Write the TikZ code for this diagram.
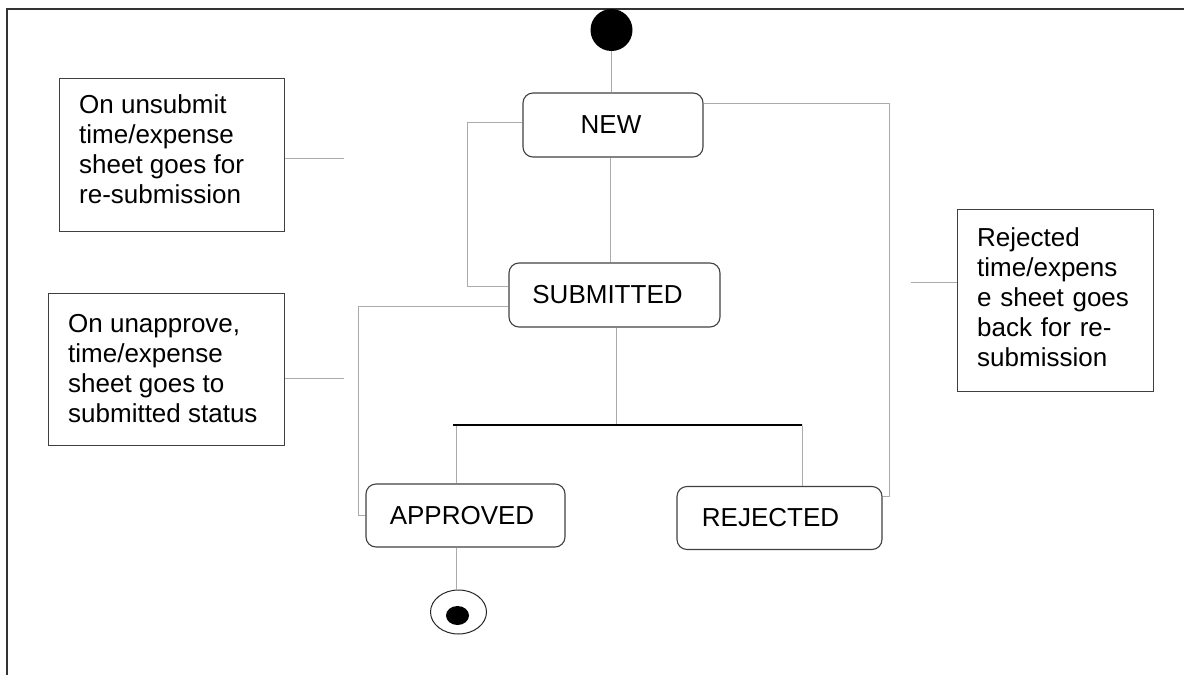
\documentclass[tikz,border=0pt]{standalone}
\usepackage{fontspec}
\setmainfont{Liberation Sans}
\usetikzlibrary{shapes.geometric}
\begin{document}
\begin{tikzpicture}[x=1pt,y=-1pt,
  conn/.style={draw=black!33, line width=0.9pt},
  state/.style={draw=black!75, line width=1.1pt, rounded corners=10pt, font=\fontsize{26}{30}\selectfont, inner sep=0pt},
  notebox/.style={draw=black!75, line width=1pt, inner sep=0pt, anchor=north west},
  notetext/.style={font=\fontsize{26}{30}\selectfont, align=left, inner sep=0pt, anchor=north west},
  frame/.style={draw=black!80, line width=2pt}]
\useasboundingbox (0,0) rectangle (1184,675);
\draw[frame] (7,675) -- (7,9) -- (1184,9);

\node[circle, fill=black, minimum size=42pt, inner sep=0pt] (init) at (611.5,30) {};

\node[state, minimum width=180pt, minimum height=64pt] (new) at (613,125) {NEW\kern4pt};
\node[state, minimum width=211pt, minimum height=64pt] (sub) at (614.5,295) {SUBMITTED\kern14pt};
\node[state, minimum width=199pt, minimum height=63pt] (app) at (465.5,515.5) {APPROVED\kern7pt};
\node[state, minimum width=205pt, minimum height=63pt] (rej) at (779.5,518) {REJECTED\kern18pt};

\node[draw=black, line width=1.3pt, minimum width=349pt, minimum height=0pt, inner sep=0pt] (bar) at (627.5,425) {};

\node[ellipse, draw=black!85, line width=1pt, minimum width=56pt, minimum height=44pt, inner sep=0pt] (final) at (458.5,612) {};
\node[ellipse, fill=black, minimum width=23pt, minimum height=19pt, inner sep=0pt] (finaldot) at (457.5,615.5) {};

\node[notebox, minimum width=225pt, minimum height=153pt] (note1) at (59,78) {};
\node[notetext] (note1txt) at (79,94) {On unsubmit\\time/expense\\sheet goes for\\re-submission};
\node[notebox, minimum width=236pt, minimum height=152pt] (note2) at (48,293) {};
\node[notetext] (note2txt) at (68,314) {On unapprove,\\time/expense\\sheet goes to\\submitted status};
\node[notebox, minimum width=196pt, minimum height=182pt] (note3) at (957,209) {};
\node[notetext, text width=156pt] (note3txt) at (977,227) {Rejected\\time/expens\\\makebox[156pt][s]{e sheet goes}\\\makebox[156pt][s]{back for re-}\\submission};

\coordinate (n1end) at (344,158);
\coordinate (n2end) at (344,378);
\coordinate (n3end) at (911,282);

\draw[conn] (init.south) -- (init.south |- new.north);
\draw[conn] ([xshift=-3pt]new.south) -- ([xshift=-3pt]new.south |- sub.north);
\draw[conn] ([yshift=3pt]new.west) -| ([xshift=-41.5pt,yshift=9pt]sub.west) -- ([yshift=9pt]sub.west);
\draw[conn] ([yshift=-11pt]sub.west) -| ([xshift=-7.5pt]app.west) -- (app.west);
\draw[conn] ([xshift=1.5pt]sub.south) -- ([xshift=1.5pt]sub.south |- bar.north);
\draw[conn] ([xshift=-9.5pt]app.north |- bar.south) -- ([xshift=-9.5pt]app.north);
\draw[conn] ([xshift=22.5pt]rej.north |- bar.south) -- ([xshift=22.5pt]rej.north);
\draw[conn] ([yshift=21.5pt]rej.east) -| ([xshift=186pt,yshift=21.5pt]new.east) -- ([yshift=21.5pt]new.east);
\draw[conn] ([xshift=-9.5pt]app.south) -- ([xshift=-9.5pt]app.south |- final.north);

\draw[conn] (note1.east |- n1end) -- (n1end);
\draw[conn] (note2.east |- n2end) -- (n2end);
\draw[conn] (note3.west |- n3end) -- (n3end);
\end{tikzpicture}
\end{document}
